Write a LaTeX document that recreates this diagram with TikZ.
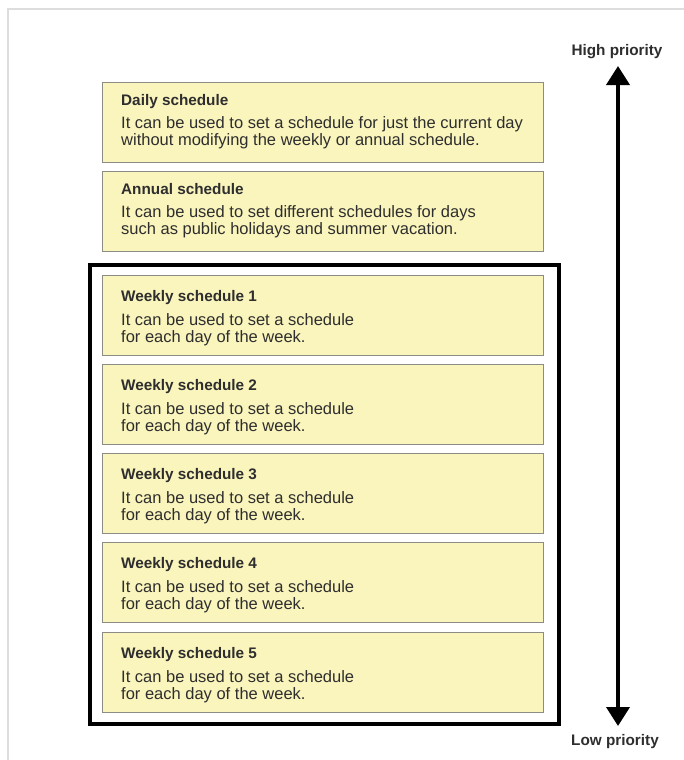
\documentclass[tikz,border=0pt]{standalone}
\usepackage{fontspec}
\setmainfont{Liberation Sans}
\usetikzlibrary{arrows.meta}
\definecolor{boxfill}{HTML}{FAF5BD}
\definecolor{boxline}{HTML}{8C8C84}
\definecolor{txt}{HTML}{2E2E2E}
\definecolor{framegray}{HTML}{DDDDDD}
\tikzset{
  sbox/.style={draw=boxline, fill=boxfill, line width=1.3pt, minimum width=441pt, minimum height=80pt, anchor=north west, inner sep=0pt},
  ttl/.style={anchor=base west, inner sep=0pt, text=txt, font=\bfseries\fontsize{15.3}{17}\selectfont},
  bdy/.style={anchor=base west, inner sep=0pt, text=txt, font=\fontsize{16.5}{18}\selectfont},
  prio/.style={inner sep=0pt, text=txt, font=\bfseries\fontsize{15.3}{17}\selectfont},
}
\begin{document}
\begin{tikzpicture}[x=1pt,y=-1pt]
\useasboundingbox (0,0) rectangle (684,760);
\draw[framegray, line width=2pt] (8,760) -- (8,9) -- (684,9);
% boxes
\node[sbox] (daily) at (102,82) {};
\node[ttl] (dailyt) at (121,105.5) {Daily schedule};
\node[bdy] (dailyb1) at (121,128.5) {It can be used to set a schedule for just the current day};
\node[bdy] (dailyb2) at (121,145.8) {without modifying the weekly or annual schedule.};
\node[sbox] (annual) at (102,171) {};
\node[ttl] (annualt) at (121,194.5) {Annual schedule};
\node[bdy] (annualb1) at (121,217.5) {It can be used to set different schedules for days};
\node[bdy] (annualb2) at (121,234.8) {such as public holidays and summer vacation.};
\node[draw=black, line width=4pt, minimum width=469pt, minimum height=459pt, anchor=north west, inner sep=0pt] (outer) at (88,263) {};
\foreach \i/\y in {1/275,2/364,3/453,4/542,5/632}{
  \node[sbox] (w\i) at (102,\y) {};
  \node[ttl] (w\i t) at (121,\y+26.5) {Weekly schedule \i};
  \node[bdy] (w\i b1) at (121,\y+50) {It can be used to set a schedule};
  \node[bdy] (w\i b2) at (121,\y+67.5) {for each day of the week.};
}
\node[prio] (hi) at (617,52) {High priority};
\node[prio] (lo) at (615,742) {Low priority};
\coordinate (top) at (618,66);
\coordinate (bot) at (618,726);
\draw[line width=3.8pt, {Triangle[width=23pt,length=19pt]}-{Triangle[width=23pt,length=19pt]}] (top) -- (bot);
\end{tikzpicture}
\end{document}
